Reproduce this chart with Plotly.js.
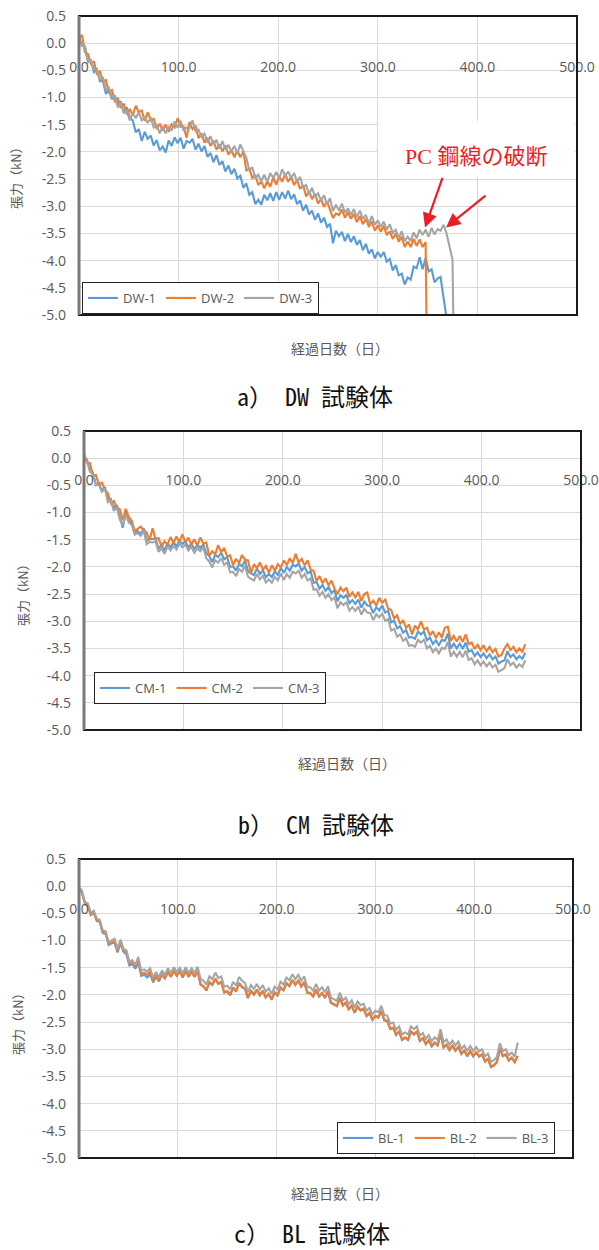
<!DOCTYPE html>
<html>
<head>
<meta charset="utf-8">
<script src="https://cdn.plot.ly/plotly-3.0.1.min.js"></script>
<style>html,body{margin:0;padding:0;background:#fff;}#chart{width:599px;height:1250px;}</style>
</head>
<body>
<div id="chart"></div>
<script>
// ---------- data ----------
const days = [0,3,6,9,12,15,18,21,24,27,30,33,36,39,42,45,48,51,54,57,60,63,66,69,72,75,78,81,84,87,90,93,96,99,102,105,108,111,114,117,120,123,126,129,132,135,138,141,144,147,150,153,156,159,162,165,168,171,174,177,180,183,186,189,192,195,198,201,204,207,210,213,216,219,222,225,228,231,234,237,240,243,246,249,252,255,258,261,264,267,270,273,276,279,282,285,288,291,294,297,300,303,306,309,312,315,318,321,324,327,330,333,336,339,342,345,348,351,354,357,360,363,366,369,372,375,378,381,384,387,390,393,396,399,402,405,408,411,414,417,420,423,426,429,432,435,438,441,444];

const xTickVals = [0,100,200,300,400,500];
const xTickText = ['0.0','100.0','200.0','300.0','400.0','500.0'];
const yTickVals = [0.5,0,-0.5,-1,-1.5,-2,-2.5,-3,-3.5,-4,-4.5,-5];
const yTickText = ['0.5','0.0','-0.5','-1.0','-1.5','-2.0','-2.5','-3.0','-3.5','-4.0','-4.5','-5.0'];

const namesDW = ['DW-1','DW-2','DW-3'];
const namesCM = ['CM-1','CM-2','CM-3'];
const namesBL = ['BL-1','BL-2','BL-3'];

// DW specimens (values on the 3-day grid, then the break point)
const dw1 = [0.12,-0.05,-0.06,-0.34,-0.32,-0.53,-0.48,-0.70,-0.69,-0.93,
-0.86,-1.03,-0.96,-1.14,-1.07,-1.28,-1.18,-1.37,-1.42,-1.64,
-1.58,-1.80,-1.63,-1.76,-1.70,-1.88,-1.78,-1.97,-1.90,-2.01,
-1.79,-1.89,-1.73,-1.84,-1.74,-1.94,-1.80,-1.83,-1.76,-1.96,
-1.85,-1.99,-1.89,-2.09,-2.02,-2.19,-2.06,-2.24,-2.17,-2.36,
-2.25,-2.41,-2.31,-2.49,-2.44,-2.66,-2.58,-2.79,-2.74,-2.96,
-2.88,-2.97,-2.79,-2.89,-2.76,-2.90,-2.74,-2.88,-2.74,-2.86,
-2.71,-2.87,-2.78,-2.96,-2.89,-3.08,-2.97,-3.15,-3.08,-3.25,
-3.13,-3.30,-3.21,-3.38,-3.32,-3.68,-3.45,-3.55,-3.47,-3.64,
-3.51,-3.66,-3.55,-3.71,-3.62,-3.81,-3.69,-3.87,-3.79,-3.96,
-3.84,-3.93,-3.84,-4.02,-3.97,-4.18,-4.08,-4.27,-4.24,-4.44,
-4.31,-4.35,-4.11,-4.14,-3.94,-4.16,-3.95,-4.20,-4.16,-4.40,
-4.33,-4.30,-4.68,-5.05];
const dw2 = [0.10,0.15,-0.17,-0.20,-0.39,-0.33,-0.58,-0.51,-0.71,-0.68,
-0.90,-0.86,-1.07,-1.02,-1.19,-1.11,-1.31,-1.21,-1.33,-1.15,
-1.27,-1.24,-1.43,-1.27,-1.42,-1.39,-1.58,-1.48,-1.61,-1.50,
-1.63,-1.49,-1.55,-1.38,-1.54,-1.53,-1.74,-1.45,-1.58,-1.52,
-1.75,-1.66,-1.83,-1.74,-1.89,-1.79,-1.96,-1.86,-1.99,-1.88,
-2.05,-1.96,-2.10,-1.97,-2.10,-1.99,-2.34,-2.31,-2.48,-2.42,
-2.61,-2.54,-2.67,-2.54,-2.64,-2.47,-2.60,-2.45,-2.55,-2.40,
-2.55,-2.46,-2.61,-2.52,-2.68,-2.61,-2.82,-2.73,-2.87,-2.77,
-2.95,-2.87,-3.01,-2.91,-3.06,-3.22,-3.13,-3.16,-3.06,-3.21,
-3.11,-3.23,-3.14,-3.29,-3.18,-3.33,-3.23,-3.38,-3.28,-3.45,
-3.35,-3.47,-3.36,-3.53,-3.46,-3.60,-3.50,-3.65,-3.56,-3.75,
-3.65,-3.75,-3.60,-3.73,-3.61,-3.75,-3.66];
const dw3 = [0.06,-0.04,-0.07,-0.35,-0.31,-0.48,-0.49,-0.68,-0.62,-0.86,
-0.82,-0.99,-0.97,-1.18,-1.09,-1.28,-1.25,-1.42,-1.28,-1.38,
-1.27,-1.42,-1.36,-1.47,-1.36,-1.55,-1.50,-1.66,-1.52,-1.66,
-1.54,-1.61,-1.44,-1.55,-1.43,-1.61,-1.55,-1.56,-1.42,-1.62,
-1.59,-1.72,-1.66,-1.83,-1.71,-1.86,-1.78,-1.94,-1.80,-1.96,
-1.87,-1.99,-1.89,-2.03,-1.86,-1.99,-2.11,-2.34,-2.28,-2.49,
-2.42,-2.54,-2.42,-2.55,-2.39,-2.48,-2.37,-2.49,-2.32,-2.44,
-2.36,-2.48,-2.39,-2.55,-2.46,-2.65,-2.61,-2.78,-2.66,-2.83,
-2.76,-2.89,-2.80,-2.96,-2.85,-3.09,-2.97,-3.08,-2.95,-3.12,
-3.04,-3.16,-3.05,-3.20,-3.08,-3.23,-3.16,-3.32,-3.18,-3.34,
-3.26,-3.38,-3.28,-3.43,-3.33,-3.49,-3.43,-3.59,-3.46,-3.64,
-3.56,-3.64,-3.48,-3.59,-3.43,-3.53,-3.43,-3.56,-3.40,-3.52,
-3.42,-3.45,-3.34,-3.50,-3.74,-3.98];
const dwBreakDays = [null, 349, 376];     // day on which the wire broke (DW-2, DW-3)
const dwBreakValues = [null, -5.3, -5.3];

// CM specimens
const cm1 = [0.02,-0.03,-0.22,-0.27,-0.49,-0.46,-0.60,-0.53,-0.77,-0.75,
-0.92,-0.86,-1.08,-1.28,-1.00,-1.14,-1.19,-1.37,-1.34,-1.40,
-1.29,-1.52,-1.48,-1.49,-1.47,-1.66,-1.60,-1.70,-1.56,-1.64,
-1.55,-1.62,-1.52,-1.58,-1.53,-1.64,-1.57,-1.67,-1.60,-1.65,
-1.58,-1.75,-1.80,-1.91,-1.78,-1.82,-1.74,-1.86,-1.82,-2.00,
-1.99,-2.07,-1.94,-1.99,-1.88,-2.08,-2.12,-2.15,-2.03,-2.13,
-2.06,-2.19,-2.13,-2.19,-2.08,-2.15,-2.02,-2.11,-2.00,-2.07,
-1.96,-1.99,-1.94,-2.07,-2.00,-2.12,-2.08,-2.29,-2.28,-2.40,
-2.33,-2.44,-2.37,-2.48,-2.43,-2.63,-2.52,-2.57,-2.52,-2.67,
-2.61,-2.68,-2.60,-2.75,-2.64,-2.71,-2.72,-2.85,-2.74,-2.80,
-2.71,-2.84,-2.81,-3.02,-2.99,-3.13,-3.09,-3.21,-3.16,-3.30,
-3.29,-3.32,-3.19,-3.24,-3.19,-3.35,-3.30,-3.42,-3.35,-3.44,
-3.34,-3.36,-3.23,-3.50,-3.41,-3.50,-3.41,-3.51,-3.39,-3.56,
-3.53,-3.64,-3.57,-3.66,-3.59,-3.68,-3.61,-3.70,-3.65,-3.78,
-3.74,-3.72,-3.55,-3.66,-3.61,-3.70,-3.64,-3.69,-3.58];
const cm2 = [0.08,-0.08,-0.09,-0.32,-0.31,-0.49,-0.45,-0.58,-0.64,-0.83,
-0.79,-0.91,-0.94,-1.14,-0.93,-1.08,-1.15,-1.34,-1.30,-1.26,
-1.32,-1.37,-1.51,-1.29,-1.49,-1.47,-1.62,-1.53,-1.59,-1.45,
-1.56,-1.44,-1.54,-1.40,-1.55,-1.46,-1.59,-1.49,-1.61,-1.46,
-1.57,-1.55,-1.80,-1.71,-1.77,-1.60,-1.73,-1.65,-1.81,-1.79,
-1.97,-1.85,-1.93,-1.78,-1.87,-1.88,-2.12,-1.95,-2.02,-1.92,
-2.05,-1.98,-2.11,-1.97,-2.07,-1.95,-2.01,-1.88,-1.97,-1.84,
-1.93,-1.76,-1.92,-1.85,-1.97,-1.88,-2.05,-2.07,-2.26,-2.17,
-2.30,-2.21,-2.34,-2.25,-2.40,-2.50,-2.38,-2.45,-2.38,-2.55,
-2.47,-2.56,-2.46,-2.63,-2.50,-2.47,-2.69,-2.62,-2.71,-2.57,
-2.66,-2.60,-2.77,-2.79,-2.95,-2.89,-3.05,-2.98,-3.12,-3.06,
-3.24,-3.08,-3.15,-3.00,-3.15,-3.12,-3.26,-3.18,-3.31,-3.20,
-3.30,-3.12,-3.10,-3.36,-3.27,-3.37,-3.27,-3.38,-3.24,-3.42,
-3.39,-3.51,-3.43,-3.53,-3.44,-3.55,-3.47,-3.57,-3.51,-3.65,
-3.62,-3.50,-3.42,-3.53,-3.47,-3.57,-3.50,-3.56,-3.42];
const cm3 = [0.00,-0.06,-0.25,-0.30,-0.50,-0.49,-0.62,-0.56,-0.81,-0.78,
-0.97,-0.91,-1.13,-1.23,-1.04,-1.18,-1.23,-1.41,-1.38,-1.43,
-1.33,-1.58,-1.54,-1.55,-1.53,-1.72,-1.66,-1.76,-1.62,-1.70,
-1.61,-1.68,-1.58,-1.64,-1.59,-1.70,-1.63,-1.74,-1.66,-1.71,
-1.64,-1.84,-1.90,-2.01,-1.88,-1.92,-1.84,-1.96,-1.92,-2.10,
-2.09,-2.17,-2.04,-2.09,-1.98,-2.18,-2.22,-2.25,-2.13,-2.23,
-2.16,-2.29,-2.23,-2.29,-2.18,-2.25,-2.12,-2.24,-2.13,-2.20,
-2.09,-2.12,-2.07,-2.20,-2.13,-2.25,-2.21,-2.42,-2.41,-2.53,
-2.46,-2.57,-2.50,-2.61,-2.56,-2.76,-2.65,-2.70,-2.65,-2.80,
-2.74,-2.81,-2.73,-2.88,-2.77,-2.84,-2.85,-2.98,-2.87,-2.93,
-2.86,-2.99,-2.96,-3.17,-3.14,-3.28,-3.24,-3.36,-3.31,-3.45,
-3.44,-3.47,-3.34,-3.39,-3.34,-3.50,-3.45,-3.57,-3.50,-3.59,
-3.49,-3.51,-3.38,-3.65,-3.56,-3.65,-3.56,-3.66,-3.54,-3.71,
-3.68,-3.79,-3.72,-3.81,-3.74,-3.83,-3.76,-3.85,-3.80,-3.93,
-3.90,-3.86,-3.70,-3.81,-3.76,-3.85,-3.79,-3.84,-3.72];

// BL specimens
const bl1 = [-0.04,-0.13,-0.31,-0.37,-0.53,-0.49,-0.64,-0.66,-0.86,-0.88,
-1.08,-1.05,-1.04,-1.22,-1.05,-1.21,-1.25,-1.46,-1.43,-1.52,
-1.40,-1.65,-1.63,-1.68,-1.62,-1.77,-1.67,-1.75,-1.63,-1.70,
-1.58,-1.67,-1.56,-1.65,-1.57,-1.68,-1.56,-1.67,-1.58,-1.67,
-1.56,-1.81,-1.85,-1.92,-1.77,-1.82,-1.71,-1.80,-1.77,-1.96,
-1.94,-2.01,-1.87,-1.94,-1.79,-1.86,-1.89,-2.06,-1.93,-2.00,
-1.91,-2.01,-1.93,-2.05,-1.99,-2.09,-1.96,-2.01,-1.87,-1.92,
-1.79,-1.84,-1.73,-1.82,-1.74,-1.85,-1.77,-1.96,-1.97,-2.03,
-1.91,-2.03,-1.97,-2.06,-1.94,-2.15,-2.18,-2.21,-2.06,-2.20,
-2.15,-2.27,-2.20,-2.33,-2.22,-2.29,-2.26,-2.39,-2.34,-2.46,
-2.39,-2.42,-2.30,-2.47,-2.48,-2.63,-2.61,-2.74,-2.68,-2.83,
-2.79,-2.83,-2.68,-2.73,-2.68,-2.85,-2.80,-2.91,-2.84,-2.95,
-2.88,-2.93,-2.73,-2.97,-2.92,-3.02,-2.94,-3.03,-2.96,-3.09,
-3.03,-3.13,-3.04,-3.13,-3.06,-3.14,-3.10,-3.23,-3.18,-3.33,
-3.30,-3.24,-2.99,-3.13,-3.10,-3.21,-3.16,-3.24,-3.13];
const bl2 = [-0.05,-0.12,-0.32,-0.35,-0.52,-0.48,-0.63,-0.65,-0.84,-0.86,
-1.06,-1.03,-1.01,-1.18,-1.02,-1.18,-1.21,-1.42,-1.39,-1.48,
-1.35,-1.61,-1.59,-1.63,-1.57,-1.74,-1.64,-1.73,-1.61,-1.69,
-1.57,-1.66,-1.55,-1.64,-1.56,-1.67,-1.55,-1.66,-1.57,-1.66,
-1.55,-1.80,-1.84,-1.91,-1.76,-1.81,-1.70,-1.79,-1.76,-1.95,
-1.93,-2.00,-1.86,-1.93,-1.78,-1.85,-1.88,-2.05,-1.92,-1.99,
-1.90,-2.00,-1.92,-2.04,-1.98,-2.08,-1.95,-2.00,-1.86,-1.91,
-1.78,-1.83,-1.72,-1.81,-1.73,-1.84,-1.76,-1.95,-1.96,-2.02,
-1.90,-2.02,-1.96,-2.05,-1.93,-2.14,-2.17,-2.20,-2.05,-2.19,
-2.14,-2.26,-2.19,-2.32,-2.21,-2.28,-2.25,-2.38,-2.33,-2.45,
-2.38,-2.41,-2.29,-2.46,-2.47,-2.62,-2.60,-2.73,-2.67,-2.82,
-2.78,-2.82,-2.67,-2.72,-2.67,-2.84,-2.79,-2.90,-2.83,-2.94,
-2.87,-2.92,-2.72,-2.96,-2.91,-3.01,-2.93,-3.02,-2.95,-3.08,
-3.02,-3.12,-3.03,-3.12,-3.05,-3.13,-3.09,-3.22,-3.17,-3.32,
-3.29,-3.23,-2.98,-3.12,-3.09,-3.20,-3.15,-3.23,-3.12];
const bl3 = [-0.02,-0.08,-0.29,-0.32,-0.49,-0.45,-0.60,-0.62,-0.81,-0.83,
-1.03,-1.00,-0.97,-1.15,-0.98,-1.15,-1.18,-1.39,-1.36,-1.45,
-1.30,-1.55,-1.53,-1.57,-1.51,-1.68,-1.58,-1.67,-1.55,-1.63,
-1.51,-1.60,-1.49,-1.58,-1.50,-1.61,-1.49,-1.60,-1.51,-1.60,
-1.48,-1.70,-1.74,-1.81,-1.66,-1.71,-1.59,-1.69,-1.66,-1.85,
-1.83,-1.90,-1.76,-1.83,-1.67,-1.74,-1.78,-1.95,-1.82,-1.89,
-1.80,-1.90,-1.82,-1.94,-1.88,-1.98,-1.85,-1.90,-1.76,-1.81,
-1.68,-1.73,-1.62,-1.71,-1.63,-1.74,-1.66,-1.85,-1.86,-1.92,
-1.80,-1.92,-1.86,-1.95,-1.84,-2.05,-2.08,-2.11,-1.96,-2.10,
-2.05,-2.17,-2.10,-2.23,-2.12,-2.19,-2.16,-2.29,-2.24,-2.36,
-2.29,-2.32,-2.20,-2.37,-2.38,-2.53,-2.51,-2.64,-2.58,-2.73,
-2.69,-2.73,-2.58,-2.63,-2.58,-2.75,-2.70,-2.81,-2.74,-2.85,
-2.78,-2.83,-2.63,-2.87,-2.82,-2.92,-2.84,-2.93,-2.86,-2.99,
-2.93,-3.03,-2.94,-3.03,-2.96,-3.04,-3.00,-3.13,-3.08,-3.23,
-3.20,-3.14,-2.89,-3.03,-3.00,-3.11,-3.06,-3.14,-2.88];

// ---------- layout ----------
const W = 599, H = 1250;
const fx = p => p / W, fy = p => 1 - p / H;
const colors = ['#5B9BD5', '#ED7D31', '#A5A5A5'];
const tickFont = {family: 'Open Sans, Noto Sans, sans-serif', size: 14, color: '#595959'};
const cjk = 'Noto Sans CJK JP, sans-serif';

// plot-area boxes in pixels: left, right, top, bottom, and the line the x labels hang from
const boxes = [
  {L: 79, R: 577, T: 16,  B: 315,  lab: 57},
  {L: 84, R: 581, T: 431, B: 730,  lab: 470},
  {L: 79, R: 573, T: 859, B: 1158, lab: 899}
];

const traces = [];
function addSeries(panel, names, series, xs) {
  const sfx = panel === 0 ? '' : String(panel + 1);
  series.forEach((vals, i) => {
    traces.push({
      type: 'scatter', mode: 'lines',
      x: xs[i], y: vals, name: names[i],
      xaxis: 'x' + sfx, yaxis: 'y' + sfx,
      legend: 'legend' + sfx,
      line: {color: colors[i], width: 2.1},
      hoverinfo: 'skip'
    });
  });
}
const dwSeries = [dw1, dw2, dw3];
const dwX = dwSeries.map((v, i) => days.slice(0, v.length).concat(dwBreakDays[i] === null ? [] : [dwBreakDays[i]]));
const dwY = dwSeries.map((v, i) => v.concat(dwBreakValues[i] === null ? [] : [dwBreakValues[i]]));
addSeries(0, namesDW, dwY, dwX);
addSeries(1, namesCM, [cm1, cm2, cm3], [days, days, days]);
addSeries(2, namesBL, [bl1, bl2, bl3], [days, days, days]);

const layout = {
  width: W, height: H,
  margin: {l: 0, r: 0, t: 0, b: 0},
  paper_bgcolor: '#fff', plot_bgcolor: '#fff',
  showlegend: true,
  shapes: [], annotations: []
};

const legendSpec = [
  {x: 82, y: 282},
  {x: 94, y: 672},
  {x: 337, y: 1122}
];

boxes.forEach((b, k) => {
  const sfx = k === 0 ? '' : String(k + 1);
  layout['xaxis' + sfx] = {
    domain: [fx(b.L), fx(b.R)], range: [0, 500],
    anchor: 'free', position: fy(b.lab),
    tickvals: xTickVals, ticktext: xTickText,
    ticks: '', showline: false, zeroline: false,
    showgrid: true, gridcolor: '#d9d9d9', gridwidth: 1,
    tickfont: tickFont, fixedrange: true, automargin: false
  };
  layout['yaxis' + sfx] = {
    domain: [fy(b.B), fy(b.T)], range: [-5, 0.5],
    anchor: 'x' + sfx,
    tickvals: yTickVals, ticktext: yTickText,
    ticks: '', ticklabelstandoff: 12,
    showline: false, zeroline: false,
    showgrid: true, gridcolor: '#d9d9d9', gridwidth: 1,
    tickfont: tickFont, fixedrange: true, automargin: false
  };
  const ls = legendSpec[k];
  layout['legend' + sfx] = {
    x: fx(ls.x), y: fy(ls.y), xanchor: 'left', yanchor: 'top',
    orientation: 'h', bgcolor: '#fff', bordercolor: '#222', borderwidth: 1,
    font: {family: 'Open Sans, Noto Sans, sans-serif', size: 13, color: '#595959'},
    itemwidth: 30, tracegroupgap: 0
  };
  // frame
  layout.shapes.push({type: 'rect', xref: 'x' + sfx + ' domain', yref: 'y' + sfx + ' domain',
    x0: 0, x1: 1, y0: 0, y1: 1, line: {color: '#1a1a1a', width: 2}, layer: 'above'});
  layout.shapes.push({type: 'line', xref: 'x' + sfx + ' domain', yref: 'y' + sfx + ' domain',
    x0: 0, x1: 0, y0: 0, y1: 1, line: {color: '#7a7a7a', width: 3}, layer: 'above'});
});

// axis titles and captions
const yTitlePos = [[15, 175], [22, 592], [17, 1021]];
const xTitlePos = [[340, 348], [347, 763], [340, 1193]];
const captions = ['a） DW 試験体', 'b） CM 試験体', 'c） BL 試験体'];
const captionPos = [[315, 395], [316, 823], [312, 1232]];
const centred = {showarrow: false, xref: 'paper', yref: 'paper', xanchor: 'center', yanchor: 'middle'};
for (let k = 0; k < 3; k++) {
  layout.annotations.push(Object.assign({}, centred, {text: '張力（kN）',
    x: fx(yTitlePos[k][0]), y: fy(yTitlePos[k][1]), textangle: -90,
    font: {family: cjk, size: 13, color: '#595959'}}));
  layout.annotations.push(Object.assign({}, centred, {text: '経過日数（日）',
    x: fx(xTitlePos[k][0]), y: fy(xTitlePos[k][1]),
    font: {family: cjk, size: 14, color: '#595959'}}));
  layout.annotations.push(Object.assign({}, centred, {text: captions[k],
    x: fx(captionPos[k][0]), y: fy(captionPos[k][1]),
    font: {family: 'Noto Sans Mono CJK JP, Liberation Mono, Noto Sans CJK JP, monospace', size: 24, color: '#111'}}));
}

// callout in panel a
layout.shapes.push({type: 'rect', xref: 'paper', yref: 'paper',
  x0: fx(378), x1: fx(575), y0: fy(177), y1: fy(121),
  fillcolor: '#fff', line: {width: 0}, layer: 'above'});
layout.annotations.push(Object.assign({}, centred, {text: 'PC 鋼線の破断',
  x: fx(476), y: fy(157),
  font: {family: 'Liberation Serif, Noto Sans CJK JP, serif', size: 22, color: '#ee1c25'}}));
const breakArrows = [
  {day: 347.4, value: -3.39, ax: 18, ay: -51},
  {day: 368.5, value: -3.39, ax: 41, ay: -33}
];
breakArrows.forEach(a => layout.annotations.push({
  text: '', xref: 'x', yref: 'y', x: a.day, y: a.value, ax: a.ax, ay: a.ay,
  showarrow: true, arrowhead: 2, arrowsize: 1.3, arrowwidth: 2.2, arrowcolor: '#ee1c25', standoff: 0
}));

Plotly.newPlot('chart', traces, layout, {displayModeBar: false, staticPlot: true});
</script>
</body>
</html>
